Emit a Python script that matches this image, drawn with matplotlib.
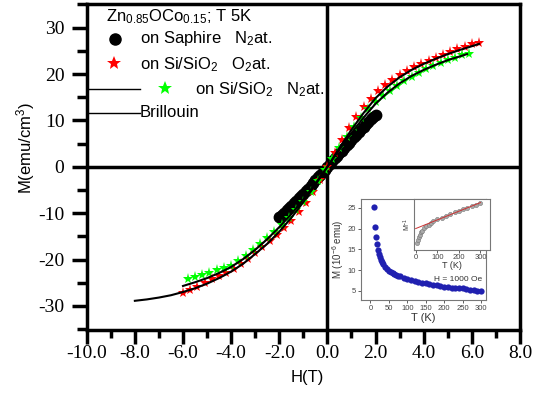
import matplotlib
matplotlib.use("Agg")
import matplotlib.pyplot as plt
from matplotlib.ticker import MultipleLocator, FormatStrFormatter

plt.rcParams['font.family'] = ['Liberation Sans', 'DejaVu Sans']
plt.rcParams['mathtext.fontset'] = 'custom'
plt.rcParams['mathtext.rm'] = 'Liberation Sans'
plt.rcParams['mathtext.it'] = 'Liberation Sans:italic'
plt.rcParams['axes.unicode_minus'] = False

# --- main M(H) data ---
h_saph = [-2.0, -1.9, -1.8, -1.7, -1.6, -1.5, -1.4, -1.3, -1.2, -1.1, -1.0,
          -0.9, -0.8, -0.7, -0.6, -0.5, -0.4, -0.3, -0.2, -0.1, 0.0,
          0.1, 0.2, 0.3, 0.4, 0.5, 0.6, 0.7, 0.8, 0.9, 1.0,
          1.1, 1.2, 1.3, 1.4, 1.5, 1.6, 1.7, 1.8, 1.9, 2.0]
m_saph = [-10.8, -10.4, -9.9, -9.4, -8.9, -8.4, -7.9, -7.3, -6.8, -6.2, -5.8,
          -5.2, -4.7, -4.1, -3.5, -2.9, -2.3, -1.7, -1.2, -0.6, 0.0,
          0.6, 1.2, 1.8, 2.3, 2.9, 3.5, 4.1, 4.7, 5.2, 5.8,
          6.4, 6.9, 7.5, 8.1, 8.6, 9.2, 9.7, 10.2, 10.7, 11.1]

h_o2 = [-6.0, -5.7, -5.4, -5.1, -4.8, -4.5, -4.2, -3.9, -3.6, -3.3, -3.0,
        -2.7, -2.4, -2.1, -1.8, -1.5, -1.2, -0.9, -0.6, -0.3, 0.0,
        0.3, 0.6, 0.9, 1.2, 1.5, 1.8, 2.1, 2.4, 2.7, 3.0,
        3.3, 3.6, 3.9, 4.2, 4.5, 4.8, 5.1, 5.4, 5.7, 6.0, 6.3]
m_o2 = [-27.2, -26.6, -25.9, -25.1, -24.3, -23.6, -22.8, -22.0, -21.0, -19.8, -18.6,
        -17.4, -16.0, -14.7, -13.2, -11.6, -9.8, -7.8, -5.4, -2.8, 0.0,
        3.0, 5.8, 8.4, 10.7, 12.8, 14.6, 16.3, 17.6, 18.8, 19.8,
        20.7, 21.5, 22.2, 22.9, 23.5, 24.2, 24.8, 25.4, 25.9, 26.4, 26.8]

h_n2 = [-5.8, -5.5, -5.2, -4.9, -4.6, -4.3, -4.0, -3.7, -3.4, -3.1, -2.8,
        -2.5, -2.2, -1.9, -1.6, -1.3, -1.0, -0.7, -0.4, -0.1, 0.2,
        0.5, 0.8, 1.1, 1.4, 1.7, 2.0, 2.3, 2.6, 2.9, 3.2,
        3.5, 3.8, 4.1, 4.4, 4.7, 5.0, 5.3, 5.6, 5.9]
m_n2 = [-24.2, -23.8, -23.3, -22.8, -22.3, -21.9, -21.4, -20.4, -19.2, -17.9, -16.7,
        -15.4, -14.0, -12.6, -11.0, -9.3, -7.5, -5.4, -3.1, -0.8, 1.6,
        4.0, 6.4, 8.6, 10.6, 12.4, 13.9, 15.2, 16.4, 17.5, 18.5,
        19.4, 20.2, 21.0, 21.7, 22.4, 23.0, 23.5, 24.0, 24.4]

h_fit1 = [-8.0, -7.5, -7.0, -6.5, -6.0, -5.5, -5.0, -4.5, -4.0, -3.5, -3.0,
          -2.5, -2.0, -1.5, -1.0, -0.5, 0.0, 0.5, 1.0, 1.5, 2.0,
          2.5, 3.0, 3.5, 4.0, 4.5, 5.0, 5.5, 6.0, 6.3]
m_fit1 = [-28.9, -28.6, -28.2, -27.7, -27.0, -26.2, -25.2, -24.0, -22.6, -20.9, -18.8,
          -16.6, -14.0, -11.0, -7.6, -3.9, 0.0, 4.1, 8.0, 11.6, 14.8,
          17.3, 19.3, 20.9, 22.2, 23.3, 24.3, 25.2, 26.0, 26.5]

h_fit2 = [-6.0, -5.5, -5.0, -4.5, -4.0, -3.5, -3.0, -2.5, -2.0, -1.5, -1.0,
          -0.5, 0.0, 0.5, 1.0, 1.5, 2.0, 2.5, 3.0, 3.5, 4.0,
          4.5, 5.0, 5.5, 5.8]
m_fit2 = [-25.7, -24.9, -24.0, -22.9, -21.6, -19.9, -17.9, -15.6, -13.0, -10.2, -7.0,
          -3.6, 0.0, 3.7, 7.3, 10.6, 13.6, 16.0, 18.0, 19.6, 20.9,
          22.0, 23.0, 23.8, 24.3]

# --- inset M(T) data ---
t_ins = [10, 13, 16, 18, 20, 22, 25, 28, 31, 35, 40, 45, 50, 55, 60, 65, 70, 75, 80,
         90, 100, 110, 120, 130, 140, 150, 160, 170, 180, 190, 200,
         210, 220, 230, 240, 250, 260, 270, 280, 290, 300]
m_ins = [25.2, 20.5, 18.0, 16.2, 14.8, 14.0, 13.2, 12.5, 12.0, 11.4, 10.8, 10.3, 9.9,
         9.6, 9.3, 9.1, 8.9, 8.7, 8.5, 8.2, 7.9, 7.6, 7.3, 7.1, 6.9, 6.8, 6.6, 6.5,
         6.3, 6.2, 6.0, 5.9, 5.8, 5.7, 5.65, 5.6, 5.4, 5.3, 5.2, 5.05, 4.9]

t_inv = [5, 10, 15, 20, 25, 30, 40, 50, 60, 70, 80, 100, 120, 140, 160, 180,
         200, 220, 240, 260, 280, 300]
m_inv = [0.14, 0.20, 0.25, 0.30, 0.35, 0.38, 0.43, 0.47, 0.50, 0.53, 0.56, 0.60,
         0.63, 0.67, 0.70, 0.74, 0.77, 0.80, 0.83, 0.86, 0.89, 0.92]
t_line = [0, 300]
m_line = [0.42, 0.93]

fig = plt.figure(figsize=(5.33, 3.94), dpi=100)
ax = fig.add_axes([0.1627, 0.1624, 0.8129, 0.8274])

ax.axhline(0, color='black', lw=2.5, zorder=1)
ax.axvline(0, color='black', lw=2.5, zorder=1)

ax.plot(h_saph, m_saph, 'o', color='black', ms=7.5, zorder=3)
ax.plot(h_o2, m_o2, '*', color='red', ms=8, mew=0, zorder=4)
ax.plot(h_n2, m_n2, '*', color='#00ff00', ms=8, mew=0, zorder=4)
ax.plot(h_fit1, m_fit1, '-', color='black', lw=1.5, zorder=5)
ax.plot(h_fit2, m_fit2, '-', color='black', lw=1.5, zorder=5)

ax.set_xlim(-10, 8)
ax.set_ylim(-35.2, 35.1)
ax.xaxis.set_major_locator(MultipleLocator(2))
ax.xaxis.set_minor_locator(MultipleLocator(1))
ax.yaxis.set_major_locator(MultipleLocator(10))
ax.yaxis.set_minor_locator(MultipleLocator(5))
ax.xaxis.set_major_formatter(FormatStrFormatter('%.1f'))
ax.yaxis.set_major_formatter(FormatStrFormatter('%d'))
for s in ax.spines.values():
    s.set_linewidth(2.5)
ax.tick_params(which='both', direction='out', width=2.5, top=False, right=False)
ax.tick_params(axis='y', which='major', length=11, pad=5)
ax.tick_params(axis='y', which='minor', length=7)
ax.tick_params(axis='x', which='major', length=10, pad=1)
ax.tick_params(axis='x', which='minor', length=6)
for lab in ax.get_xticklabels() + ax.get_yticklabels():
    lab.set_fontfamily('Liberation Serif')
    lab.set_fontsize(14)

ax.set_xlabel('H(T)', fontsize=12)
ax.xaxis.set_label_coords(0.51, -0.123)
ax.set_ylabel('M(emu/cm$^3$)', fontsize=12)
ax.yaxis.set_label_coords(-0.115, 0.56)

# hand-drawn legend block, as in the original
tr = ax.transAxes
ax.text(0.045, 0.962, 'Zn$_{0.85}$OCo$_{0.15}$; T 5K', transform=tr, fontsize=12, va='center')
ax.plot([0.065], [0.893], 'o', color='black', ms=8, transform=tr, clip_on=False)
ax.text(0.123, 0.893, 'on Saphire   N$_2$at.', transform=tr, fontsize=12, va='center')
ax.plot([0.063], [0.819], '*', color='red', ms=10, mew=0, transform=tr, clip_on=False)
ax.text(0.123, 0.813, 'on Si/SiO$_2$   O$_2$at.', transform=tr, fontsize=12, va='center')
ax.plot([0.003, 0.123], [0.739, 0.739], '-', color='black', lw=1, transform=tr)
ax.plot([0.181], [0.742], '*', color='#00ff00', ms=10, mew=0, transform=tr, clip_on=False)
ax.text(0.25, 0.736, 'on Si/SiO$_2$   N$_2$at.', transform=tr, fontsize=12, va='center')
ax.plot([0.003, 0.123], [0.666, 0.666], '-', color='black', lw=1, transform=tr)
ax.text(0.123, 0.666, 'Brillouin', transform=tr, fontsize=12, va='center')

# --- inset M(T) ---
gray = '#777777'
ins = fig.add_axes([0.677, 0.2386, 0.2345, 0.256])
ins.plot(t_ins, m_ins, 'o', color='#2020b0', ms=4.5, mew=0)
ins.set_xlim(-26, 313)
ins.set_ylim(2.8, 27.1)
ins.set_xticks([0, 50, 100, 150, 200, 250, 300])
ins.set_yticks([5, 10, 15, 20, 25])
for s in ins.spines.values():
    s.set_color(gray)
    s.set_linewidth(0.8)
ins.tick_params(labelsize=5.5, colors='#444444', length=2, width=0.6, pad=1.5)
ins.set_xlabel('T (K)', fontsize=8, color='#333333', labelpad=1)
ins.set_ylabel('M (10$^{-6}$ emu)', fontsize=7, color='#333333', labelpad=1)
ins.text(0.97, 0.2, 'H = 1000 Oe', transform=ins.transAxes, fontsize=6,
         ha='right', va='center', color='#333333')

# --- inner inset M^-1(T) ---
inn = fig.add_axes([0.777, 0.3655, 0.1426, 0.1294])
inn.plot(t_inv, m_inv, 'o', color='#aaaaaa', mec='#777777', ms=3, mew=0.4)
inn.plot(t_line, m_line, '-', color='#cc3333', lw=0.7)
inn.set_xlim(-7, 345)
inn.set_ylim(0, 1)
inn.set_xticks([0, 100, 200, 300])
inn.set_yticks([])
for s in inn.spines.values():
    s.set_color(gray)
    s.set_linewidth(0.8)
inn.tick_params(labelsize=5.5, colors='#444444', length=2, width=0.6, pad=1)
inn.set_xlabel('T (K)', fontsize=6.5, color='#333333', labelpad=0)
inn.set_ylabel('M$^{-1}$', fontsize=5, color='#333333', labelpad=1)

fig.savefig('out.png', dpi=100)
